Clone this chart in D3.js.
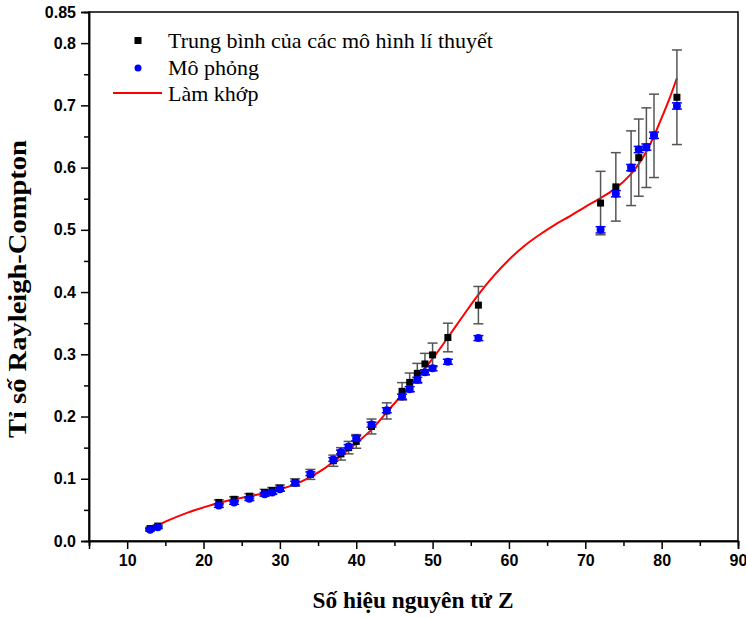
<!DOCTYPE html>
<html><head><meta charset="utf-8">
<script src="https://cdn.jsdelivr.net/npm/d3@7"></script>
<style>body{margin:0;background:#fff}</style>
</head><body>
<svg id="c" width="746" height="618"></svg>
<script>
// ---- data ----
const zValues      = [13,14,22,24,26,28,29,30,32,34,37,38,39,40,42,44,46,47,48,49,50,52,56,72,74,76,77,78,79,82];
const theoryMean   = [0.020,0.024,0.062,0.067,0.072,0.078,0.081,0.085,0.094,0.107,0.129,0.140,0.150,0.160,0.184,0.209,0.2405,0.2549,0.2694,0.2845,0.299,0.327,0.379,0.543,0.569,0.599,0.616,0.632,0.651,0.713];
const theoryErr    = [0.002,0.002,0.004,0.004,0.004,0.005,0.005,0.005,0.006,0.008,0.009,0.010,0.010,0.011,0.012,0.013,0.014,0.015,0.016,0.017,0.019,0.023,0.030,0.051,0.055,0.060,0.062,0.064,0.067,0.076];
const simValues    = [0.018,0.022,0.057,0.062,0.068,0.075,0.078,0.083,0.093,0.108,0.131,0.143,0.152,0.165,0.187,0.210,0.232,0.244,0.259,0.271,0.2775,0.288,0.326,0.500,0.558,0.600,0.629,0.633,0.652,0.699];
const simErr       = [0.002,0.002,0.003,0.003,0.003,0.003,0.003,0.003,0.003,0.003,0.003,0.003,0.003,0.004,0.004,0.004,0.004,0.004,0.004,0.004,0.004,0.004,0.004,0.005,0.005,0.005,0.005,0.005,0.005,0.005];
const fitZ         = [13,15,18,20,22,24,26,28,30,32,34,36,38,40,42,44,46,48,50,52,54,56,58,60,62,64,66,68,70,72,74,76,77,78,79,80,81,82];
const fitY         = [0.019,0.031,0.046,0.054,0.061,0.067,0.072,0.077,0.083,0.091,0.103,0.118,0.137,0.157,0.179,0.207,0.235,0.263,0.293,0.327,0.362,0.396,0.426,0.452,0.474,0.492,0.508,0.522,0.537,0.551,0.567,0.590,0.606,0.626,0.651,0.680,0.710,0.744];
const xTicks       = [10,20,30,40,50,60,70,80,90];
const yTicks       = [0.0,0.1,0.2,0.3,0.4,0.5,0.6,0.7,0.8,0.85];
const legendLabels = ["Trung bình của các mô hình lí thuyết","Mô phỏng","Làm khớp"];
const xTitle = "Số hiệu nguyên tử Z";
const yTitle = "Tỉ số Rayleigh-Compton";

const svg = d3.select("#c");
const L = 89, R = 738, T = 12, B = 541;
const x = d3.scaleLinear().domain([5,90]).range([L,R]);
const y = d3.scaleLinear().domain([0,0.85]).range([B,T]);

// frame
svg.append("rect").attr("x",L).attr("y",T).attr("width",R-L).attr("height",B-T)
  .attr("fill","none").attr("stroke","#000").attr("stroke-width",1.5);

const tickFont = "'Liberation Sans', Arial, sans-serif";
// x axis
const xMinor = d3.range(5,91,5).filter(v=>v%10!==0);
const gx = svg.append("g").attr("transform",`translate(0,${B})`);
gx.call(d3.axisBottom(x).tickValues(xTicks).tickSize(8).tickPadding(6).tickFormat(d3.format("d")));
gx.append("g").call(d3.axisBottom(x).tickValues(xMinor).tickSize(5).tickFormat(""));
gx.selectAll(".domain").attr("stroke-width",1.5);
gx.selectAll("line").attr("stroke-width",1.5);
gx.selectAll("text").attr("font-family",tickFont).attr("font-weight","bold").attr("font-size",16).attr("fill","#000");
// y axis
const yMinor = d3.range(0.05,0.85,0.1);
const gy = svg.append("g").attr("transform",`translate(${L},0)`);
gy.call(d3.axisLeft(y).tickValues(yTicks).tickSize(8).tickPadding(5).tickFormat(d=> d===0.85 ? "0.85" : d3.format(".1f")(d)));
gy.append("g").call(d3.axisLeft(y).tickValues(yMinor).tickSize(5).tickFormat(""));
gy.selectAll(".domain").attr("stroke-width",1.5);
gy.selectAll("line").attr("stroke-width",1.5);
gy.selectAll("text").attr("font-family",tickFont).attr("font-weight","bold").attr("font-size",16).attr("fill","#000");

// titles
const serif = "'Liberation Serif', 'Times New Roman', serif";
svg.append("text").attr("x",413).attr("y",608).attr("text-anchor","middle")
  .attr("font-family",serif).attr("font-weight","bold").attr("font-size",23)
  .attr("textLength",201).attr("lengthAdjust","spacingAndGlyphs").text(xTitle);
svg.append("text").attr("transform",`translate(26,289) rotate(-90)`).attr("text-anchor","middle")
  .attr("font-family",serif).attr("font-weight","bold").attr("font-size",25)
  .attr("textLength",298).attr("lengthAdjust","spacingAndGlyphs").text(yTitle);

// fit curve
const fitData = fitZ.map((z,i)=>[z,fitY[i]]);
svg.append("path").datum(fitData)
  .attr("d", d3.line().x(d=>x(d[0])).y(d=>y(d[1])).curve(d3.curveCatmullRom.alpha(0.5)))
  .attr("fill","none").attr("stroke","#ff0000").attr("stroke-width",2);

const pts = zValues.map((z,i)=>({z, t:theoryMean[i], te:theoryErr[i], s:simValues[i], se:simErr[i]}));
const cap = 5;
// theory error bars
const eb = svg.append("g").attr("stroke","#555").attr("stroke-width",1.5);
pts.forEach(p=>{
  const cx = x(p.z), y1 = y(p.t+p.te), y2 = y(p.t-p.te);
  eb.append("line").attr("x1",cx).attr("x2",cx).attr("y1",y1).attr("y2",y2);
  eb.append("line").attr("x1",cx-cap).attr("x2",cx+cap).attr("y1",y1).attr("y2",y1);
  eb.append("line").attr("x1",cx-cap).attr("x2",cx+cap).attr("y1",y2).attr("y2",y2);
});
// theory squares
svg.append("g").selectAll("rect").data(pts).join("rect")
  .attr("x",d=>x(d.z)-3.5).attr("y",d=>y(d.t)-3.5).attr("width",7).attr("height",7).attr("fill","#000");
// sim error bars
const sb = svg.append("g").attr("stroke","#0000ff").attr("stroke-width",1.5);
pts.forEach(p=>{
  const cx = x(p.z), y1 = y(p.s+p.se), y2 = y(p.s-p.se);
  sb.append("line").attr("x1",cx).attr("x2",cx).attr("y1",y1).attr("y2",y2);
  sb.append("line").attr("x1",cx-cap).attr("x2",cx+cap).attr("y1",y1).attr("y2",y1);
  sb.append("line").attr("x1",cx-cap).attr("x2",cx+cap).attr("y1",y2).attr("y2",y2);
});
svg.append("g").selectAll("circle").data(pts).join("circle")
  .attr("cx",d=>x(d.z)).attr("cy",d=>y(d.s)).attr("r",4).attr("fill","#0000ff");

// legend
const lg = svg.append("g").attr("font-family",serif).attr("font-size",22);
lg.append("rect").attr("x",134.5).attr("y",37).attr("width",7).attr("height",7).attr("fill","#000");
lg.append("text").attr("x",168).attr("y",48).text(legendLabels[0]);
lg.append("circle").attr("cx",138).attr("cy",68).attr("r",3.5).attr("fill","#0000ff");
lg.append("text").attr("x",168).attr("y",75).text(legendLabels[1]);
lg.append("line").attr("x1",113).attr("x2",162).attr("y1",93).attr("y2",93).attr("stroke","#ff0000").attr("stroke-width",2);
lg.append("text").attr("x",168).attr("y",101).text(legendLabels[2]);
</script>
</body></html>
